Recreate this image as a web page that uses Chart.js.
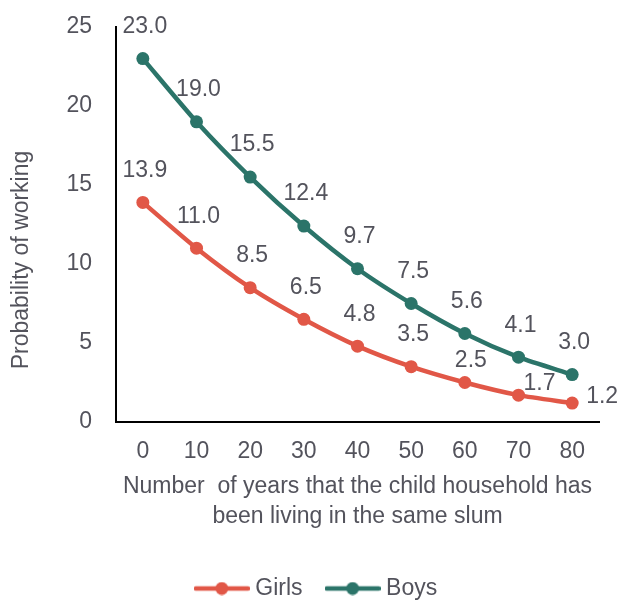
<!DOCTYPE html>
<html lang="en">
    <head>
        <meta charset="UTF-8">
        <title>Probability of working by years in the same slum</title>
        <script src="https://cdn.jsdelivr.net/npm/chart.js@4.4.1/dist/chart.umd.min.js"></script>
        <style>
            html, body {
                margin: 0;
                padding: 0;
                background: #ffffff;
            }
            #chart {
                display: block;
            }
        </style>
    </head>
    <body>
        <canvas id="chart" width="620" height="601"></canvas>
        <script>
            // values
            const years = ["0", "10", "20", "30", "40", "50", "60", "70", "80"];
            const girls = [13.9, 11.0, 8.5, 6.5, 4.8, 3.5, 2.5, 1.7, 1.2];
            const boys = [23.0, 19.0, 15.5, 12.4, 9.7, 7.5, 5.6, 4.1, 3.0];
            const yTicks = [0, 5, 10, 15, 20, 25];

            const textColor = "#53535C";
            const girlsColor = "#E15747";
            const boysColor = "#2B7469";
            const font = "'Liberation Sans', Arial, sans-serif";

            // a few labels were moved by hand in the original
            const labelShift = {
                "0-6": [6, -22],
                "0-7": [21, -11],
                "0-8": "right"
            };

            function legendIcon(color) {
                const c = document.createElement("canvas");
                c.width = 56;
                c.height = 14;
                const g = c.getContext("2d");
                g.strokeStyle = color;
                g.lineWidth = 4.5;
                g.lineCap = "round";
                g.beginPath();
                g.moveTo(2, 7);
                g.lineTo(54, 7);
                g.stroke();
                g.fillStyle = color;
                g.beginPath();
                g.arc(28, 7, 6.5, 0, Math.PI * 2);
                g.fill();
                return c;
            }

            const valueLabels = {
                id: "valueLabels",
                afterDatasetsDraw(chart) {
                    const ctx = chart.ctx;
                    ctx.save();
                    ctx.font = "23px " + font;
                    ctx.fillStyle = textColor;
                    ctx.textBaseline = "middle";
                    chart.data.datasets.forEach((ds, di) => {
                        chart.getDatasetMeta(di).data.forEach((pt, i) => {
                            const txt = ds.data[i].toFixed(1);
                            const s = labelShift[di + "-" + i];
                            if (s === "right") {
                                ctx.textAlign = "left";
                                ctx.fillText(txt, pt.x + 14, pt.y - 6);
                            } else {
                                const d = s || [2, -32];
                                ctx.textAlign = "center";
                                ctx.fillText(txt, pt.x + d[0], pt.y + d[1]);
                            }
                        });
                    });
                    ctx.restore();
                }
            };

            const yTitle = {
                id: "yTitle",
                afterDraw(chart) {
                    const ctx = chart.ctx;
                    ctx.save();
                    ctx.translate(22, 260);
                    ctx.rotate(-Math.PI / 2);
                    ctx.font = "23px " + font;
                    ctx.fillStyle = textColor;
                    ctx.textAlign = "center";
                    ctx.textBaseline = "middle";
                    ctx.fillText("Probability of working", 0, 0);
                    ctx.restore();
                }
            };

            const legendMove = {
                id: "legendMove",
                afterLayout(chart) {
                    chart.legend.top += 9;
                    chart.legend.bottom += 9;
                    chart.legend.left += 19;
                    chart.legend.right += 19;
                }
            };

            const config = {
                type: "line",
                data: {
                    labels: years,
                    datasets: [
                        {
                            label: "Girls",
                            data: girls,
                            borderColor: girlsColor,
                            backgroundColor: girlsColor,
                            borderWidth: 4.5,
                            pointRadius: 6.5,
                            pointBorderWidth: 0,
                            tension: 0.25
                        },
                        {
                            label: "Boys",
                            data: boys,
                            borderColor: boysColor,
                            backgroundColor: boysColor,
                            borderWidth: 4.5,
                            pointRadius: 6.5,
                            pointBorderWidth: 0,
                            tension: 0.25
                        }
                    ]
                },
                options: {
                    responsive: false,
                    animation: false,
                    layout: {
                        padding: { top: 27, right: 21, left: 0, bottom: 0 }
                    },
                    scales: {
                        x: {
                            offset: true,
                            grid: { display: false, drawTicks: false },
                            border: { color: "#000000", width: 2 },
                            ticks: {
                                color: textColor,
                                font: { family: font, size: 23 },
                                padding: 16,
                                maxRotation: 0
                            },
                            title: {
                                display: true,
                                text: ["Number  of years that the child household has", "been living in the same slum"],
                                color: textColor,
                                font: { family: font, size: 23, lineHeight: 1.3 },
                                padding: { top: 0, bottom: 8 }
                            },
                            afterFit(scale) {
                                scale.height = 118;
                            }
                        },
                        y: {
                            min: 0,
                            max: 25,
                            grid: { display: false, drawTicks: false },
                            border: { color: "#000000", width: 2 },
                            afterBuildTicks(scale) {
                                scale.ticks = yTicks.map(v => ({ value: v }));
                            },
                            ticks: {
                                color: textColor,
                                font: { family: font, size: 23 },
                                padding: 24
                            },
                            afterFit(scale) {
                                scale.width = 116;
                                scale.paddingTop = 0;
                                scale.paddingBottom = 0;
                            }
                        }
                    },
                    plugins: {
                        tooltip: { enabled: false },
                        legend: {
                            position: "bottom",
                            labels: {
                                usePointStyle: true,
                                pointStyleWidth: 44,
                                padding: 28,
                                color: textColor,
                                font: { family: font, size: 23 },
                                generateLabels(chart) {
                                    return Chart.defaults.plugins.legend.labels.generateLabels(chart).map(l => {
                                        l.pointStyle = legendIcon(chart.data.datasets[l.datasetIndex].borderColor);
                                        return l;
                                    });
                                }
                            }
                        }
                    }
                },
                plugins: [valueLabels, yTitle, legendMove]
            };

            const chart = new Chart(document.getElementById("chart").getContext("2d"), config);
        </script>
    </body>
</html>
